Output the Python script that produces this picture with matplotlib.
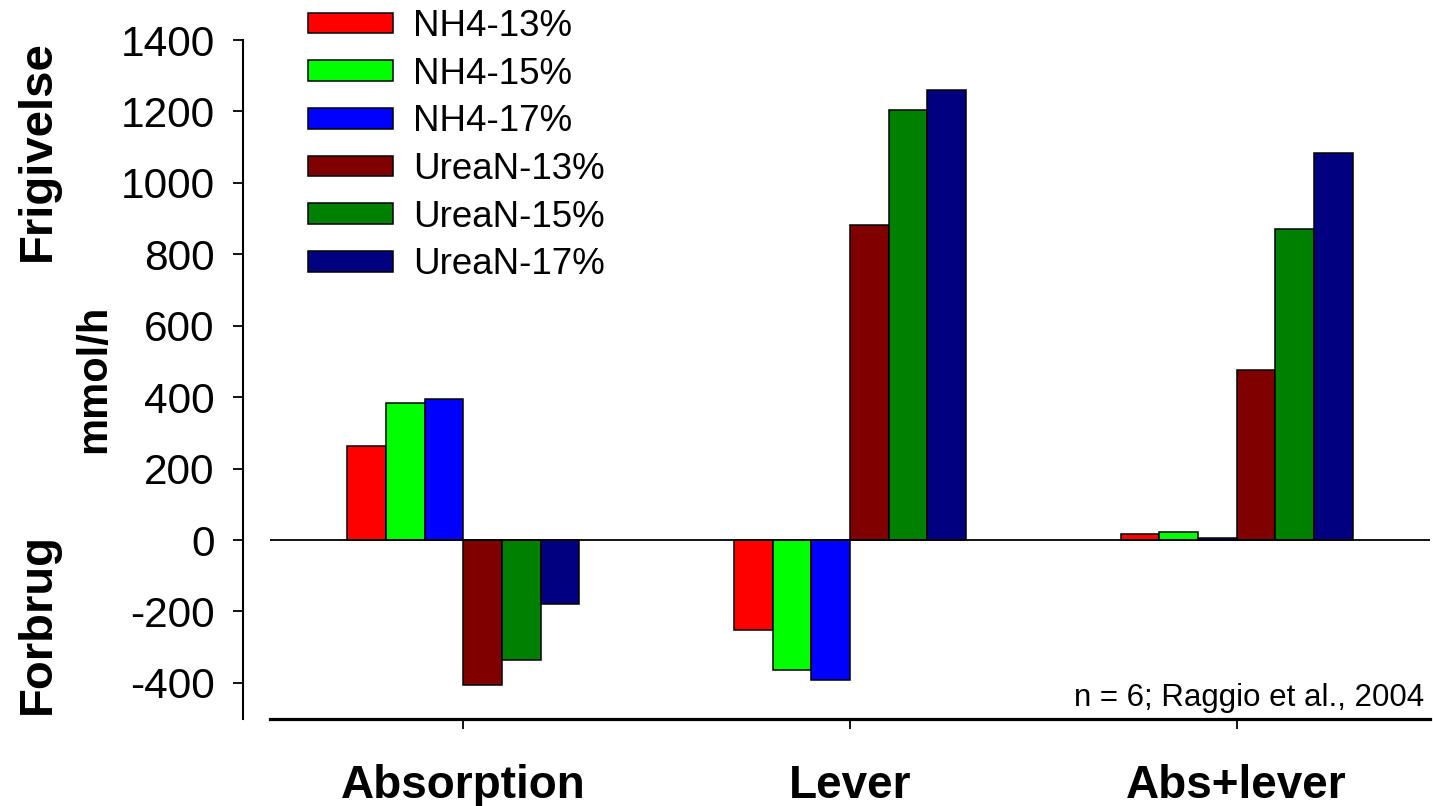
import matplotlib
matplotlib.use("Agg")
import matplotlib.pyplot as plt
from matplotlib.patches import Patch
import numpy as np

plt.rcParams['font.family'] = ['Liberation Sans', 'DejaVu Sans']
plt.rcParams['axes.unicode_minus'] = False

categories = ["Absorption", "Lever", "Abs+lever"]
series_names = ["NH4-13%", "NH4-15%", "NH4-17%", "UreaN-13%", "UreaN-15%", "UreaN-17%"]
nh4_13 = [264, -252, 17]
nh4_15 = [383, -364, 22]
nh4_17 = [396, -393, 5]
urea_13 = [-407, 882, 476]
urea_15 = [-335, 1204, 870]
urea_17 = [-178, 1260, 1084]
series_values = [nh4_13, nh4_15, nh4_17, urea_13, urea_15, urea_17]
series_colors = ["#FF0000", "#00FF00", "#0000FF", "#800000", "#008000", "#000080"]
y_ticks = [-400, -200, 0, 200, 400, 600, 800, 1000, 1200, 1400]

W, H, DPI = 1433, 806, 100
fig = plt.figure(figsize=(W / DPI, H / DPI), dpi=DPI)
ax = fig.add_axes([270 / W, 1 - 718.6 / H, 1160 / W, (718.6 - 40) / H])

x = np.arange(len(categories))
bw = 0.1
n = len(series_values)
for i, (vals, col, name) in enumerate(zip(series_values, series_colors, series_names)):
    ax.bar(x + (i - (n - 1) / 2) * bw, vals, width=bw, color=col,
           edgecolor="black", linewidth=1.1, label=name, zorder=3)

ax.axhline(0, color="black", linewidth=1.3, zorder=4)

ax.set_xlim(-0.5, 2.5)
ax.set_ylim(-500, 1400)
ax.set_yticks(y_ticks)
ax.set_xticks(x)
ax.set_xticklabels(categories, fontsize=33, fontweight="bold")
ax.tick_params(axis="y", labelsize=30.5, length=7.5, width=1.3, pad=13, direction="out")
ax.tick_params(axis="x", length=7.5, width=1.3, pad=25, direction="out")

for s in ("top", "right"):
    ax.spines[s].set_visible(False)
ax.spines["left"].set_position(("outward", 19.4))
ax.spines["left"].set_linewidth(1.5)
ax.spines["bottom"].set_linewidth(2.3)

handles = [Patch(facecolor=c, edgecolor="black", linewidth=1.1) for c in series_colors]
fig.legend(handles, series_names, loc="upper left",
           bbox_to_anchor=(308 / W, 1 - 9 / H), frameon=False, fontsize=26.5,
           handlelength=2.31, handleheight=0.49, handletextpad=0.54,
           labelspacing=0.345, borderpad=0, borderaxespad=0)

fig.text(38 / W, 1 - 151 / H, "Frigivelse", rotation=90, ha="center", va="center",
         fontsize=34, fontweight="bold")
fig.text(38 / W, 1 - 623 / H, "Forbrug", rotation=90, ha="center", va="center",
         fontsize=34, fontweight="bold")
fig.text(94 / W, 1 - 379 / H, "mmol/h", rotation=90, ha="center", va="center",
         fontsize=30, fontweight="bold")
fig.text(1424 / W, 1 - 706 / H, "n = 6; Raggio et al., 2004", ha="right", va="baseline",
         fontsize=22.5)

fig.savefig("out.png", dpi=DPI)
